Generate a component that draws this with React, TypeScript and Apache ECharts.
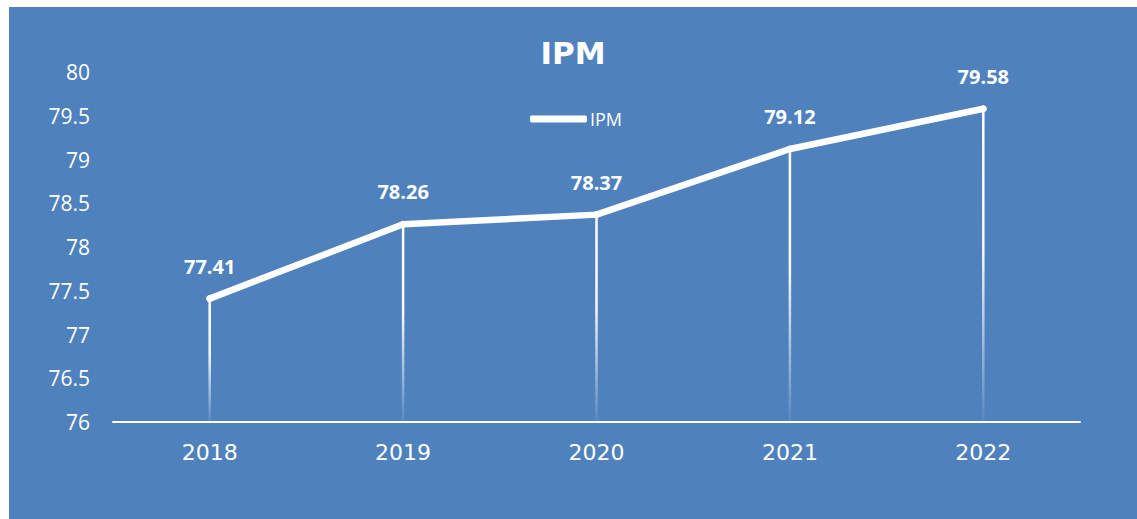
import React, { useEffect, useRef } from "react";
import * as echarts from "echarts";

const categories = ["2018", "2019", "2020", "2021", "2022"];
const ipmValues = [77.41, 78.26, 78.37, 79.12, 79.58];
const yMin = 76;
const yMax = 80;
const yInterval = 0.5;

export default function App() {
  const ref = useRef<HTMLDivElement>(null);

  useEffect(() => {
    if (!ref.current) return;
    const chart = echarts.init(ref.current, undefined, { renderer: "svg" });
    const option: any = {
      animation: false,
      backgroundColor: "#4F81BD",
      title: {
        text: "IPM",
        left: "center",
        top: 30,
        padding: 0,
        textStyle: {
          color: "#ffffff",
          fontFamily: "DejaVu Sans",
          fontWeight: "bold",
          fontSize: 31,
          lineHeight: 32,
        },
      },
      legend: {
        data: ["IPM"],
        left: 521,
        top: 102,
        padding: 0,
        icon: "roundRect",
        itemWidth: 57,
        itemHeight: 7,
        itemStyle: { color: "#ffffff", borderWidth: 0 },
        textStyle: {
          color: "#ffffff",
          fontFamily: "Open Sans",
          fontSize: 18,
          lineHeight: 20,
          padding: [0, 0, 0, -2],
        },
      },
      grid: { left: 104, right: 57, top: 65, bottom: 97, containLabel: false },
      xAxis: {
        type: "category",
        data: categories,
        boundaryGap: true,
        axisLine: { show: true, lineStyle: { color: "#ffffff", width: 2 } },
        axisTick: { show: false },
        splitLine: { show: false },
        axisLabel: {
          color: "#ffffff",
          fontFamily: "DejaVu Sans",
          fontSize: 22,
          margin: 19,
        },
      },
      yAxis: {
        type: "value",
        min: yMin,
        max: yMax,
        interval: yInterval,
        axisLine: { show: false },
        axisTick: { show: false },
        splitLine: { show: false },
        axisLabel: {
          color: "#ffffff",
          fontFamily: "Open Sans",
          fontSize: 21,
          margin: 23,
        },
      },
      series: [
        {
          name: "drop",
          type: "custom",
          z: 1,
          silent: true,
          data: ipmValues.map((v, i) => [i, v]),
          renderItem: (params: any, api: any) => {
            const top = api.coord([api.value(0), api.value(1)]);
            const bottom = api.coord([api.value(0), yMin]);
            const w = 2.5;
            return {
              type: "rect",
              shape: {
                x: top[0] - w / 2,
                y: top[1],
                width: w,
                height: bottom[1] - top[1],
              },
              style: {
                fill: new echarts.graphic.LinearGradient(0, 0, 0, 1, [
                  { offset: 0, color: "rgba(255,255,255,1)" },
                  { offset: 0.45, color: "rgba(255,255,255,0.95)" },
                  { offset: 1, color: "rgba(255,255,255,0.05)" },
                ]),
              },
            };
          },
        },
        {
          name: "IPM",
          type: "line",
          z: 3,
          data: ipmValues,
          symbol: "circle",
          symbolSize: 7,
          itemStyle: { color: "#ffffff" },
          lineStyle: { color: "#ffffff", width: 6.5, cap: "round", join: "round" },
          label: {
            show: true,
            position: "top",
            distance: 19,
            color: "#ffffff",
            fontFamily: "Open Sans",
            fontWeight: "bold",
            fontSize: 20,
          },
        },
      ],
    };
    chart.setOption(option);
    return () => chart.dispose();
  }, []);

  return (
    <div
      ref={ref}
      style={{
        position: "absolute",
        left: 9,
        top: 7,
        width: 1128,
        height: 512,
        background: "#4F81BD",
      }}
    />
  );
}
